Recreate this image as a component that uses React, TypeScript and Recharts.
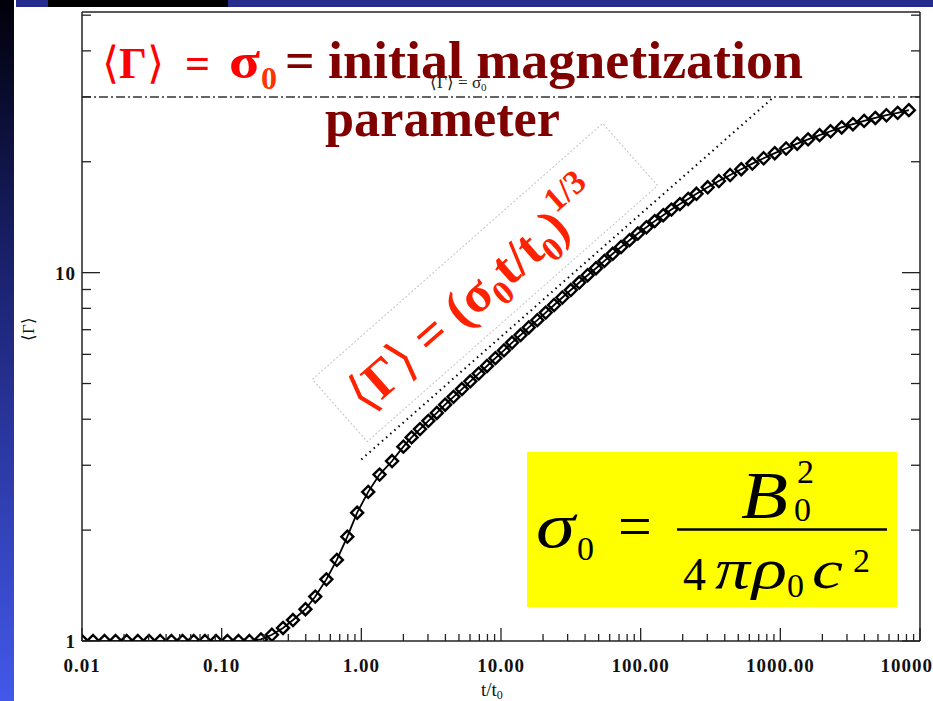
import { Line, LineChart, ReferenceLine, XAxis, YAxis } from "recharts";

// t/t0 sample times and <Gamma>
const T = [
  0.01, 0.012, 0.0145, 0.0174, 0.0209, 0.0251, 0.0302, 0.0363, 0.0437, 0.0525,
  0.0631, 0.0759, 0.0912, 0.11, 0.132, 0.158, 0.191, 0.229, 0.275, 0.324,
  0.398, 0.468, 0.562, 0.668, 0.794, 0.933, 1.12, 1.35, 1.66, 2.0,
  2.29, 2.63, 3.02, 3.47, 3.98, 4.57, 5.25, 6.03, 6.92, 7.94,
  9.12, 10.5, 12.0, 13.8, 15.8, 18.2, 20.9, 24.0, 27.5, 31.6,
  36.3, 41.7, 47.9, 55.0, 63.1, 72.4, 83.2, 95.5, 110, 126,
  145, 166, 191, 219, 251, 302, 363, 437, 525, 631,
  759, 912, 1100, 1320, 1580, 1910, 2290, 2750, 3310, 3980,
  4790, 5750, 6920, 8320,
];
const GAMMA = [
  1.0, 1.0, 1.0, 1.0, 1.0, 1.0, 1.0, 1.0, 1.0, 1.0,
  1.0, 1.0, 1.0, 1.0, 1.0, 1.0, 1.01, 1.04, 1.085, 1.14,
  1.22, 1.32, 1.47, 1.66, 1.92, 2.23, 2.54, 2.83, 3.08, 3.37,
  3.57, 3.76, 3.96, 4.16, 4.38, 4.6, 4.83, 5.07, 5.32, 5.58,
  5.86, 6.15, 6.46, 6.77, 7.1, 7.43, 7.79, 8.17, 8.56, 8.97,
  9.4, 9.84, 10.28, 10.76, 11.25, 11.74, 12.25, 12.77, 13.28, 13.8,
  14.32, 14.83, 15.35, 15.85, 16.37, 17.05, 17.73, 18.41, 19.09, 19.77,
  20.44, 21.1, 21.73, 22.39, 23.01, 23.62, 24.2, 24.78, 25.29, 25.82,
  26.3, 26.75, 27.15, 27.61,
];

// dotted power-law guide, end points
const FIT_T = [1, 900];
const FIT_GAMMA = [3.11, 30];
const SIGMA0 = 30;

const X_MAJOR = [0.01, 0.1, 1, 10, 100, 1000, 10000];
const X_LABELS = ["0.01", "0.10", "1.00", "10.00", "100.00", "1000.00", "10000"];
const Y_MAJOR = [1, 10];
const Y_LABELS = ["1", "10"];
const Y_MINOR = [2, 3, 4, 5, 6, 7, 8, 9, 20, 30, 40, 50];

const X_TICKS = X_MAJOR.flatMap((d, i) =>
  i === X_MAJOR.length - 1 ? [d] : [1, 2, 3, 4, 5, 6, 7, 8, 9].map((m) => m * d)
);
const Y_TICKS = [...Y_MAJOR, ...Y_MINOR];

const data = T.map((t, i) => ({ t, g: GAMMA[i] }));
const fit = FIT_T.map((t, i) => ({ t, g: FIT_GAMMA[i] }));

const W = 933;
const H = 701;
const PL = 82;
const PR = 920;
const PT = 12;
const PB = 641;
const AXIS = "#222";
const LABEL_FONT = "'Liberation Serif', 'Times New Roman', serif";

function isMajor(list: number[], v: number) {
  return list.findIndex((m) => Math.abs(m - v) / m < 1e-6);
}

function BottomTick(props: any) {
  const { x, payload } = props;
  const i = isMajor(X_MAJOR, payload.value);
  const last = i === X_MAJOR.length - 1;
  return (
    <g>
      <line x1={x} x2={x} y1={PB} y2={PB - (i >= 0 ? 13 : 7)} stroke={AXIS} strokeWidth={1.3} />
      {i >= 0 ? (
        <text
          x={last ? W : x}
          y={PB + 31}
          textAnchor={last ? "end" : "middle"}
          fontFamily={LABEL_FONT}
          fontWeight="bold"
          fontSize={19}
          letterSpacing={1}
          fill="#111"
        >
          {X_LABELS[i]}
        </text>
      ) : null}
    </g>
  );
}

function TopTick(props: any) {
  const { x, payload } = props;
  const i = isMajor(X_MAJOR, payload.value);
  return <line x1={x} x2={x} y1={PT} y2={PT + (i >= 0 ? 12 : 6)} stroke={AXIS} strokeWidth={1.3} />;
}

function LeftTick(props: any) {
  const { y, payload } = props;
  const i = isMajor(Y_MAJOR, payload.value);
  return (
    <g>
      <line x1={PL} x2={PL + (i >= 0 ? 18 : 9)} y1={y} y2={y} stroke={AXIS} strokeWidth={1.3} />
      {i >= 0 ? (
        <text
          x={PL - 6}
          y={y + 7}
          textAnchor="end"
          fontFamily={LABEL_FONT}
          fontWeight="bold"
          fontSize={19}
          letterSpacing={1}
          fill="#111"
        >
          {Y_LABELS[i]}
        </text>
      ) : null}
    </g>
  );
}

function RightTick(props: any) {
  const { y, payload } = props;
  const i = isMajor(Y_MAJOR, payload.value);
  return <line x1={PR} x2={PR - (i >= 0 ? 18 : 9)} y1={y} y2={y} stroke={AXIS} strokeWidth={1.3} />;
}

function Diamond(props: any) {
  const { cx, cy, index } = props;
  if (cx == null || cy == null) return <g key={index} />;
  const r = 6;
  return (
    <path
      key={index}
      d={`M${cx},${cy - r}L${cx + r},${cy}L${cx},${cy + r}L${cx - r},${cy}Z`}
      fill="none"
      stroke="#000"
      strokeWidth={2.4}
      clipPath="url(#plotClip)"
    />
  );
}

export default function App() {
  const axisLine = { stroke: AXIS, strokeWidth: 1.5 };
  return (
    <div style={{ position: "absolute", left: 0, top: 0, width: W, height: H, background: "#fff", overflow: "hidden" }}>
      <svg width={0} height={0} style={{ position: "absolute" }}>
        <defs>
          <clipPath id="plotClip" clipPathUnits="userSpaceOnUse">
            <rect x={PL} y={PT} width={PR - PL} height={PB - PT} />
          </clipPath>
        </defs>
      </svg>
      <div style={{ position: "absolute", left: 0, top: 0 }}>
        <LineChart width={W} height={H} margin={{ top: 0, right: 0, bottom: 0, left: 0 }}>
          <XAxis
            xAxisId="b"
            dataKey="t"
            type="number"
            scale="log"
            domain={[0.01, 10000]}
            allowDataOverflow
            ticks={X_TICKS}
            interval={0}
            height={H - PB}
            tickLine={false}
            axisLine={axisLine}
            tick={<BottomTick />}
          />
          <XAxis
            xAxisId="t"
            orientation="top"
            type="number"
            scale="log"
            domain={[0.01, 10000]}
            allowDataOverflow
            ticks={X_TICKS}
            interval={0}
            height={PT}
            tickLine={false}
            axisLine={axisLine}
            tick={<TopTick />}
          />
          <YAxis
            yAxisId="l"
            type="number"
            scale="log"
            domain={[1, 51]}
            allowDataOverflow
            ticks={Y_TICKS}
            interval={0}
            width={PL}
            tickLine={false}
            axisLine={axisLine}
            tick={<LeftTick />}
          />
          <YAxis
            yAxisId="r"
            orientation="right"
            type="number"
            scale="log"
            domain={[1, 51]}
            allowDataOverflow
            ticks={Y_TICKS}
            interval={0}
            width={W - PR}
            tickLine={false}
            axisLine={axisLine}
            tick={<RightTick />}
          />
          <ReferenceLine
            xAxisId="b"
            yAxisId="l"
            y={SIGMA0}
            stroke="#333"
            strokeWidth={1.5}
            strokeDasharray="9 3 2 3"
          />
          <Line
            xAxisId="b"
            yAxisId="l"
            data={fit}
            dataKey="g"
            type="linear"
            stroke="#000"
            strokeWidth={2}
            strokeDasharray="1.5 4"
            dot={false}
            isAnimationActive={false}
          />
          <Line
            xAxisId="b"
            yAxisId="l"
            data={data}
            dataKey="g"
            type="linear"
            stroke="#000"
            strokeWidth={1.8}
            dot={(p: any) => <Diamond {...p} key={p.index} />}
            isAnimationActive={false}
          />
        </LineChart>
      </div>

      <svg
        width={W}
        height={H}
        style={{ position: "absolute", left: 0, top: 0, pointerEvents: "none" }}
        fontFamily={LABEL_FONT}
      >
        <defs>
          <linearGradient id="stripe" x1="0" y1="0" x2="0" y2="1">
            <stop offset="0" stopColor="#00000a" />
            <stop offset="0.4" stopColor="#1b2372" />
            <stop offset="1" stopColor="#4358ea" />
          </linearGradient>
        </defs>
        <rect x={0} y={0} width={14} height={H} fill="url(#stripe)" />
        <rect x={16} y={0} width={32} height={7} fill="#262c8c" />
        <rect x={48} y={0} width={180} height={7} fill="#000" />
        <rect x={228} y={0} width={W - 228} height={7} fill="#262c8c" />

        {/* axis titles */}
        <text x={481} y={696} fontSize={19} fill="#111">
          t/t<tspan fontSize={12} dy={3}>0</tspan>
        </text>
        <text transform="translate(34,329) rotate(-90)" textAnchor="middle" fontSize={17} fill="#111">
          ⟨Γ⟩
        </text>

        {/* small label on the sigma0 line */}
        <text x={430} y={88} fontSize={17} fill="#222">
          ⟨Γ⟩ = σ<tspan fontSize={11} dy={3}>0</tspan>
        </text>

        {/* headline */}
        <text x={102} y={78} fontSize={44} fontWeight="bold" fill="#ff0000">
          <tspan fontWeight="normal">⟨</tspan>Γ<tspan fontWeight="normal">⟩</tspan>
        </text>
        <text x={185} y={78} fontSize={44} fontWeight="bold" fill="#ff0000">=</text>
        <text x={229} y={78} fontSize={50} fontWeight="bold" fill="#ff0000" textLength={31} lengthAdjust="spacingAndGlyphs">σ</text>
        <text x={261} y={89} fontSize={32} fontWeight="bold" fill="#ff3300">0</text>
        <text x={285} y={78} fontSize={52} fontWeight="bold" fill="#800000">=</text>
        <text
          x={328}
          y={78}
          fontSize={52}
          fontWeight="bold"
          fill="#800000"
          textLength={475}
          lengthAdjust="spacingAndGlyphs"
        >
          initial magnetization
        </text>
        <text
          x={325}
          y={136}
          fontSize={52}
          fontWeight="bold"
          fill="#800000"
          textLength={235}
          lengthAdjust="spacingAndGlyphs"
        >
          parameter
        </text>

        {/* rotated power-law label */}
        <g transform="translate(485,282.5) rotate(-41.4)">
          <rect x={-193.5} y={-41.5} width={387} height={83} fill="none" stroke="#c4c4c4" strokeWidth={1} strokeDasharray="2 2" />
          <text x={-176} y={20} fontSize={52} fontWeight="bold" fill="#ff2200">
            <tspan fontWeight="normal">⟨</tspan>Γ<tspan fontWeight="normal">⟩</tspan> = (σ
            <tspan fontSize={34} dy={11}>0</tspan>
            <tspan dy={-11}>t/t</tspan>
            <tspan fontSize={34} dy={11}>0</tspan>
            <tspan dy={-11}>)</tspan>
            <tspan fontSize={34} dy={-25}>1/3</tspan>
          </text>
        </g>

        {/* sigma0 definition */}
        <rect x={527} y={452} width={370} height={155} fill="#ffff00" />
        <text x={536} y={547} fontSize={64} fontStyle="italic" fill="#000" textLength={39} lengthAdjust="spacingAndGlyphs">σ</text>
        <text x={577} y={560} fontSize={34} fill="#000">0</text>
        <text x={618} y={546} fontSize={60} fill="#000">=</text>
        <line x1={677} x2={887} y1={529.5} y2={529.5} stroke="#000" strokeWidth={2.5} />
        <text x={741} y={518} fontSize={68} fontStyle="italic" fill="#000" textLength={47} lengthAdjust="spacingAndGlyphs">B</text>
        <text x={797} y={483} fontSize={34} fill="#000">2</text>
        <text x={794} y={521} fontSize={34} fill="#000">0</text>
        <text x={683} y={590} fontSize={46} fill="#000">4</text>
        <text x={715} y={588} fontSize={56} fontStyle="italic" fill="#000" textLength={35} lengthAdjust="spacingAndGlyphs">π</text>
        <text x={752} y={588} fontSize={56} fontStyle="italic" fill="#000" textLength={35} lengthAdjust="spacingAndGlyphs">ρ</text>
        <text x={787} y={597} fontSize={34} fill="#000">0</text>
        <text x={812} y={588} fontSize={54} fontStyle="italic" fill="#000" textLength={31} lengthAdjust="spacingAndGlyphs">c</text>
        <text x={853} y={572} fontSize={34} fill="#000">2</text>
      </svg>
    </div>
  );
}
